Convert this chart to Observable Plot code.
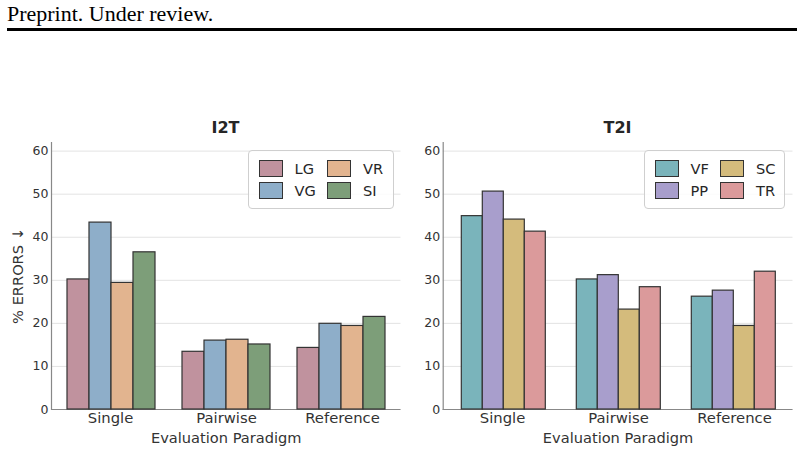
<!DOCTYPE html>
<html><head><meta charset="utf-8">
<script src="https://cdn.jsdelivr.net/npm/d3@7"></script>
<script src="https://cdn.jsdelivr.net/npm/@observablehq/plot@0.6"></script>
<style>
body{margin:0;background:#fff;}
#page{position:relative;width:804px;height:453px;overflow:hidden;font-family:"DejaVu Sans",sans-serif;}
.abs{position:absolute;}
.title{position:absolute;font-weight:bold;font-size:16px;color:#262626;transform:translate(-50%,-50%);white-space:nowrap;}
.legend{position:absolute;box-sizing:border-box;border:1px solid #cfcfcf;border-radius:4px;background:rgba(255,255,255,0.85);}
.sw{position:absolute;box-sizing:border-box;width:24px;height:17px;border:1.2px solid #333;}
.lt{position:absolute;font-size:14.6px;color:#262626;transform:translateY(-50%);white-space:nowrap;line-height:1;}
</style></head>
<body>
<div id="page">
  <svg class="abs" style="left:0;top:0" width="804" height="40">
    <text x="7" y="21" font-family="Liberation Serif, serif" font-size="20" transform="translate(7,0) scale(1.1,1) translate(-7,0)" fill="#000">Preprint. Under review.</text>
    <rect x="7" y="28" width="790" height="3" fill="#000"></rect>
  </svg>
  <div id="left" class="abs" style="left:0;top:130px"></div>
  <div id="right" class="abs" style="left:402px;top:130px"></div>
</div>
<script>
const paradigms = ["Single", "Pairwise", "Reference"];

const i2tSeries = ["LG", "VG", "VR", "SI"];
const i2tColors = ["#c0929e", "#8eaec9", "#e2b48f", "#7d9e79"];
const i2tLG = [30.2, 13.4, 14.3];
const i2tVG = [43.4, 16.0, 19.9];
const i2tVR = [29.4, 16.2, 19.4];
const i2tSI = [36.5, 15.1, 21.5];

const t2iSeries = ["VF", "PP", "SC", "TR"];
const t2iColors = ["#7ab4bb", "#a89ecc", "#d4bb7c", "#db9a9b"];
const t2iVF = [44.9, 30.2, 26.2];
const t2iPP = [50.6, 31.2, 27.6];
const t2iSC = [44.1, 23.2, 19.4];
const t2iTR = [41.3, 28.4, 32.0];

const yTicks = [0, 10, 20, 30, 40, 50, 60];
const yLabel = "% ERRORS ↓";
const xLabel = "Evaluation Paradigm";

function rows(series, values) {
  const out = [];
  paradigms.forEach((p, i) => series.forEach((s, j) => out.push({paradigm: p, series: s, value: values[j][i]})));
  return out;
}

const W = 402, H = 323, MT = 12, MB = 44;
const PI = 0.237, PO = 0.132;
const style = {fontFamily: "DejaVu Sans, sans-serif", fontSize: "12.5px", color: "#333", background: "transparent", overflow: "visible"};

function back(ml, mr, withYLabel) {
  const marks = [
    Plot.gridY(yTicks, {stroke: "#e3e3e3", strokeOpacity: 1, strokeWidth: 1}),
    Plot.axisY(yTicks, {tickSize: 0, tickPadding: 3, label: null, fontSize: 12.5, fill: "#333"}),
    Plot.axisX({tickSize: 0, tickPadding: 3, label: null, fontSize: 14.8, fill: "#333"}),
    Plot.text([xLabel], {frameAnchor: "bottom", dy: 29, fontSize: 14.6, fill: "#333", lineAnchor: "middle", textAnchor: "middle"}),
    Plot.ruleY([0], {stroke: "#888", strokeWidth: 1.2}),
    Plot.frame({anchor: "left", stroke: "#888", strokeWidth: 1.2})
  ];
  if (withYLabel) marks.push(Plot.text([yLabel], {frameAnchor: "left", dx: -33.5, rotate: -90, fontSize: 14.6, fill: "#333", lineAnchor: "middle", textAnchor: "middle"}));
  return Plot.plot({
    width: W, height: H, marginTop: MT, marginBottom: MB, marginLeft: ml, marginRight: mr,
    style,
    x: {domain: paradigms, paddingInner: PI, paddingOuter: PO, axis: null},
    y: {domain: [0, 62], axis: null},
    marks
  });
}

function front(ml, mr, series, colors, data) {
  return Plot.plot({
    width: W, height: H, marginTop: MT, marginBottom: MB, marginLeft: ml, marginRight: mr,
    style,
    fx: {domain: paradigms, paddingInner: PI, paddingOuter: PO, axis: null, label: null},
    x: {domain: series, padding: 0, axis: null},
    y: {domain: [0, 62], axis: null},
    color: {domain: series, range: colors},
    marks: [
      Plot.barY(data, {fx: "paradigm", x: "series", y: "value", fill: "series", stroke: "#333", strokeWidth: 1.2, inset: 0})
    ]
  });
}

function legend(container, series, colors, boxLeft, boxWidth, col2Off) {
  const box = document.createElement("div");
  box.className = "legend";
  box.style.left = boxLeft + "px"; box.style.top = "20px";
  box.style.width = boxWidth + "px"; box.style.height = "59px";
  series.forEach((s, k) => {
    const col = Math.floor(k / 2), row = k % 2;
    const sw = document.createElement("div");
    sw.className = "sw";
    sw.style.background = colors[k];
    sw.style.left = (10 + col * col2Off) + "px";
    sw.style.top = (9 + row * 22) + "px";
    box.appendChild(sw);
    const t = document.createElement("div");
    t.className = "lt";
    t.textContent = s;
    t.style.left = (46 + col * col2Off) + "px";
    t.style.top = (18 + row * 22) + "px";
    box.appendChild(t);
  });
  container.appendChild(box);
}

function chart(id, title, ml, mr, series, colors, values, titleX, boxLeft, boxWidth, col2Off, withYLabel) {
  const el = document.getElementById(id);
  el.style.width = W + "px"; el.style.height = H + "px";
  const b = back(ml, mr, withYLabel); b.style.position = "absolute"; b.style.left = "0"; b.style.top = "0";
  const f = front(ml, mr, series, colors, rows(series, values)); f.style.position = "absolute"; f.style.left = "0"; f.style.top = "0";
  el.appendChild(b); el.appendChild(f);
  const t = document.createElement("div");
  t.className = "title"; t.textContent = title;
  t.style.left = titleX + "px"; t.style.top = "-3px";
  el.appendChild(t);
  legend(el, series, colors, boxLeft, boxWidth, col2Off);
}

chart("left", "I2T", 51, 1.5, i2tSeries, i2tColors, [i2tLG, i2tVG, i2tVR, i2tSI], 225.5, 247.5, 146, 68.5, true);
chart("right", "T2I", 40.7, 11.5, t2iSeries, t2iColors, [t2iVF, t2iPP, t2iSC, t2iTR], 215.5, 241.5, 141.5, 65.5, false);
</script>
</body></html>
